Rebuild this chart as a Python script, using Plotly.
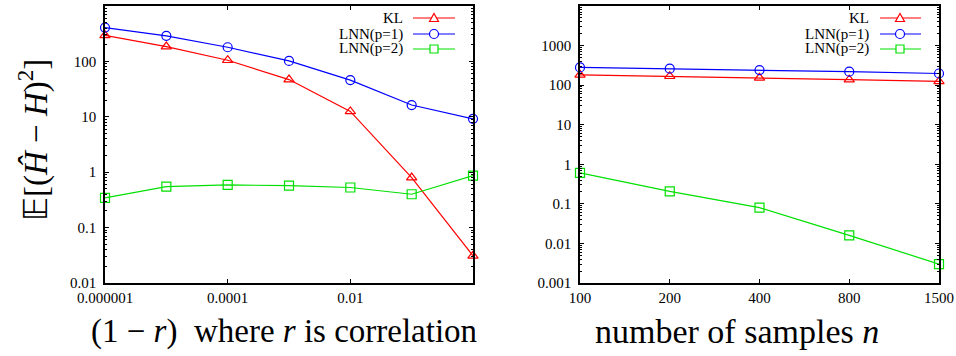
import plotly.graph_objects as go

# ---------------- data ----------------
corr_x = [1e-6, 1e-5, 1e-4, 1e-3, 1e-2, 1e-1, 1.0]
corr_kl = [296, 185, 105, 47, 12.5, 0.8, 0.031]
corr_lnn1 = [408, 289, 180, 102, 46, 16.3, 9.2]
corr_lnn2 = [0.344, 0.55, 0.59, 0.57, 0.53, 0.40, 0.87]

n_labels = ["100", "200", "400", "800", "1500"]
n_kl = [182, 168, 153, 138, 124]
n_lnn1 = [280, 260, 240, 219, 197]
n_lnn2 = [0.61, 0.207, 0.080, 0.016, 0.003]

series_names = ["KL", "LNN(p=1)", "LNN(p=2)"]
series_colors = ["#ff0000", "#0000ff", "#00e000"]
series_symbols = ["triangle-up-open", "circle-open", "square-open"]

left_xticks = [1e-6, 1e-4, 1e-2]
left_xticktext = ["0.000001", "0.0001", "0.01"]
left_yticks = [0.01, 0.1, 1, 10, 100, 1000]
left_yticktext = ["0.01", "0.1", "1", "10", "100", "1000"]
right_yticks = [0.001, 0.01, 0.1, 1, 10, 100, 1000, 10000]
right_yticktext = ["0.001", "0.01", "0.1", "1", "10", "100", "1000", "10000"]

W, H = 956, 356
FONT = "Liberation Serif"

def px(x):
    return x / W

def py(y):
    return 1 - y / H

fig = go.Figure()

left_sets = [corr_kl, corr_lnn1, corr_lnn2]
right_sets = [n_kl, n_lnn1, n_lnn2]
for name, col, sym, ys in zip(series_names, series_colors, series_symbols, left_sets):
    fig.add_trace(go.Scatter(x=corr_x, y=ys, mode="lines+markers", name=name,
                             line=dict(color=col, width=1.2),
                             marker=dict(symbol=sym, size=9, color=col, line=dict(width=1.2, color=col)),
                             xaxis="x", yaxis="y", showlegend=False, cliponaxis=False))
for name, col, sym, ys in zip(series_names, series_colors, series_symbols, right_sets):
    fig.add_trace(go.Scatter(x=n_labels, y=ys, mode="lines+markers", name=name,
                             line=dict(color=col, width=1.2),
                             marker=dict(symbol=sym, size=9, color=col, line=dict(width=1.2, color=col)),
                             xaxis="x2", yaxis="y2", showlegend=False, cliponaxis=False))

axis_common = dict(showline=True, linecolor="black", linewidth=1.5, mirror="allticks",
                   ticks="inside", ticklen=4, tickwidth=1, tickcolor="black",
                   showgrid=False, zeroline=False, automargin=False,
                   tickfont=dict(family=FONT, size=15, color="black"))

yminor = dict(ticks="inside", ticklen=2, tickwidth=1, tickcolor="black", dtick="D1", showgrid=False)

fig.update_layout(
    width=W, height=H,
    font=dict(family=FONT, color="black"),
    margin=dict(l=0, r=0, t=0, b=0, autoexpand=False),
    paper_bgcolor="white", plot_bgcolor="white",
    showlegend=False,
    xaxis=dict(domain=[px(105), px(473)], type="log", range=[-6, 0],
               tickmode="array", tickvals=left_xticks, ticktext=left_xticktext,
               anchor="y", **axis_common),
    yaxis=dict(domain=[py(283), py(6)], type="log", range=[-2, 3],
               tickmode="array", tickvals=left_yticks, ticktext=left_yticktext,
               anchor="x", ticklabelstandoff=4, minor=yminor, **axis_common),
    xaxis2=dict(domain=[px(580), px(939)], type="category", range=[0, 4],
                categoryorder="array", categoryarray=n_labels,
                anchor="y2", **axis_common),
    yaxis2=dict(domain=[py(283), py(6)], type="log", range=[-3, 4],
                tickmode="array", tickvals=right_yticks, ticktext=right_yticktext,
                anchor="x2", ticklabelstandoff=4, minor=yminor, **axis_common),
)

annotations = [
    dict(text="(1 \u2212 <i>r</i>)  where <i>r</i> is correlation", x=px(284), y=py(331),
         xref="paper", yref="paper", showarrow=False, xanchor="center", yanchor="middle",
         font=dict(family=FONT, size=33, color="black")),
    dict(text="number of samples <i>n</i>", x=px(737), y=py(331),
         xref="paper", yref="paper", showarrow=False, xanchor="center", yanchor="middle",
         font=dict(family=FONT, size=34, color="black")),
    dict(text="\U0001D53C[(<i>\u0124</i> \u2212 <i>H</i>)<sup>2</sup>]", x=px(33), y=py(140),
         xref="paper", yref="paper", showarrow=False, xanchor="center", yanchor="middle",
         textangle=-90, font=dict(family=FONT, size=33, color="black")),
]

shapes = []
legend_rows = [18, 34, 49]
for text_right, line_x0, line_x1, mark_x in [(404, 413, 455, 434), (870, 880, 921, 900)]:
    for name, col, sym, ry in zip(series_names, series_colors, series_symbols, legend_rows):
        annotations.append(dict(text=name, x=px(text_right), y=py(ry), xref="paper", yref="paper",
                                showarrow=False, xanchor="right", yanchor="middle", borderpad=0,
                                font=dict(family=FONT, size=15, color="black")))
        shapes.append(dict(type="line", xref="paper", yref="paper",
                           x0=px(line_x0), x1=px(line_x1), y0=py(ry), y1=py(ry),
                           line=dict(color=col, width=1.2)))
        if sym.startswith("circle"):
            shapes.append(dict(type="circle", xref="paper", yref="paper",
                               xsizemode="pixel", ysizemode="pixel",
                               xanchor=px(mark_x), yanchor=py(ry),
                               x0=-4.5, x1=4.5, y0=-4.5, y1=4.5,
                               fillcolor="white", line=dict(color=col, width=1.2)))
            continue
        if sym.startswith("triangle"):
            path = "M-4.5,-3.5 L4.5,-3.5 L0,4.5 Z"
        else:
            path = "M-4,-4 L4,-4 L4,4 L-4,4 Z"
        shapes.append(dict(type="path", xref="paper", yref="paper",
                           xsizemode="pixel", ysizemode="pixel",
                           xanchor=px(mark_x), yanchor=py(ry), path=path,
                           fillcolor="white", line=dict(color=col, width=1.2)))

fig.update_layout(annotations=annotations, shapes=shapes)
fig.write_html("out.html", config={"displayModeBar": False},
               post_script="document.body.style.margin='0px';document.body.style.overflow='hidden';")
